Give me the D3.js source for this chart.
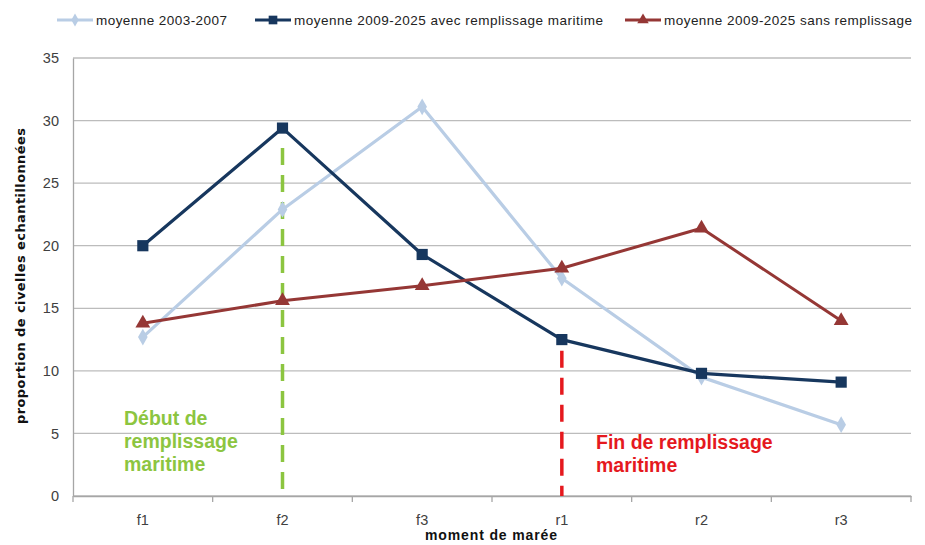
<!DOCTYPE html>
<html>
<head>
<meta charset="utf-8">
<script src="https://cdn.jsdelivr.net/npm/d3@7"></script>
<style>
  body { margin: 0; background: #fff; }
  svg { display: block; font-family: "Liberation Sans Narrow", "Liberation Sans", sans-serif; }
</style>
</head>
<body>
<svg id="chart" width="925" height="545"></svg>
<script>
// tide moments
var categories = ['f1', 'f2', 'f3', 'r1', 'r2', 'r3'];
var seriesNames = ['moyenne 2003-2007', 'moyenne 2009-2025 avec remplissage maritime', 'moyenne 2009-2025 sans remplissage'];
var avg0307 = [12.7, 22.9, 31.1, 17.4, 9.5, 5.7];
var avgAvec = [20.0, 29.4, 19.3, 12.5, 9.8, 9.1];
var avgSans = [13.8, 15.6, 16.8, 18.2, 21.4, 14.0];
var yTicks = [0, 5, 10, 15, 20, 25, 30, 35];
// dashed markers: [category, top value]
var debut = ['f2', 27.8];
var fin = ['r1', 11.6];

var margin = {left: 73, right: 14, top: 58, bottom: 49};
var W = 925, H = 545;
var svg = d3.select('#chart');

var x = d3.scaleBand().domain(categories).range([margin.left, W - margin.right]);
var y = d3.scaleLinear().domain([0, 35]).range([H - margin.bottom, margin.top]);

// gridlines
svg.append('g').selectAll('line').data(yTicks).join('line')
  .attr('x1', margin.left).attr('x2', W - margin.right)
  .attr('y1', d => y(d)).attr('y2', d => y(d))
  .attr('stroke', '#bcbcbc').attr('stroke-width', 1.3);

// y axis
var yAxis = svg.append('g').attr('transform', 'translate(' + margin.left + ',0)')
  .call(d3.axisLeft(y).tickValues(yTicks).tickSize(0).tickPadding(14));
yAxis.select('.domain').attr('stroke', '#a6a6a6').attr('stroke-width', 1.3);
yAxis.selectAll('text').attr('font-size', 14.5).attr('fill', '#404040')
  .attr('font-family', '"Liberation Sans Narrow", sans-serif');

// x axis
var xAxis = svg.append('g').attr('transform', 'translate(0,' + y(0) + ')')
  .call(d3.axisBottom(x).tickSize(0).tickPadding(19));
xAxis.select('.domain').attr('stroke', '#a6a6a6').attr('stroke-width', 1.3);
xAxis.selectAll('text').attr('font-size', 14.5).attr('fill', '#404040')
  .attr('font-family', '"Liberation Sans Narrow", sans-serif');
// band boundary tick marks
xAxis.append('g').selectAll('line').data(categories.concat(['end'])).join('line')
  .attr('x1', (d, i) => margin.left + i * x.bandwidth())
  .attr('x2', (d, i) => margin.left + i * x.bandwidth())
  .attr('y1', 0).attr('y2', 6)
  .attr('stroke', '#a6a6a6').attr('stroke-width', 1.3);

var cx = d => x(d) + x.bandwidth() / 2;

// dashed vertical lines
svg.append('line')
  .attr('x1', cx(debut[0])).attr('x2', cx(debut[0]))
  .attr('y1', y(debut[1])).attr('y2', y(0))
  .attr('stroke', '#8cc540').attr('stroke-width', 3.5).attr('stroke-dasharray', '17,10');
svg.append('line')
  .attr('x1', cx(fin[0])).attr('x2', cx(fin[0]))
  .attr('y1', y(fin[1])).attr('y2', y(0))
  .attr('stroke', '#e5191e').attr('stroke-width', 3.5).attr('stroke-dasharray', '17,10');

// series
var series = [
  {name: seriesNames[0], values: avg0307, color: '#b9cde5', width: 3.2, symbol: d3.symbolDiamond, size: 80},
  {name: seriesNames[1], values: avgAvec, color: '#17375e', width: 3.2, symbol: d3.symbolSquare, size: 125},
  {name: seriesNames[2], values: avgSans, color: '#953735', width: 3, symbol: d3.symbolTriangle, size: 95}
];

var line = d3.line().x((d, i) => cx(categories[i])).y(d => y(d));

series.forEach(function(s) {
  svg.append('path').datum(s.values)
    .attr('d', line).attr('fill', 'none')
    .attr('stroke', s.color).attr('stroke-width', s.width).attr('stroke-linejoin', 'round');
  svg.append('g').selectAll('path').data(s.values).join('path')
    .attr('transform', (d, i) => 'translate(' + cx(categories[i]) + ',' + y(d) + ')')
    .attr('d', d3.symbol().type(s.symbol).size(s.size))
    .attr('fill', s.color);
});

// legend
var legendX = [57, 255, 625];
var legendLen = [131, 309, 248];
var leg = svg.append('g');
series.forEach(function(s, i) {
  var g = leg.append('g').attr('transform', 'translate(' + legendX[i] + ',20)');
  g.append('line').attr('x1', 0).attr('x2', 36).attr('y1', 0).attr('y2', 0)
    .attr('stroke', s.color).attr('stroke-width', 3.2);
  g.append('path').attr('transform', 'translate(18,0)')
    .attr('d', d3.symbol().type(s.symbol).size(s.size * 0.6)).attr('fill', s.color);
  g.append('text').attr('x', 39).attr('y', 4.5).attr('font-size', 13.5).attr('fill', '#222')
    .attr('textLength', legendLen[i]).text(s.name);
});

// axis titles
svg.append('text').attr('x', 491).attr('y', 540)
  .attr('text-anchor', 'middle').attr('font-size', 14).attr('font-weight', 'bold')
  .attr('textLength', 132).attr('fill', '#111').text('moment de marée');
svg.append('text')
  .attr('transform', 'translate(25,276) rotate(-90)')
  .attr('text-anchor', 'middle').attr('font-size', 13).attr('font-weight', 'bold')
  .attr('font-family', '"DejaVu Sans", sans-serif').attr('textLength', 296)
  .attr('fill', '#111').text('proportion de civelles echantillonnées');

// annotations
var debutText = ['Début de', 'remplissage', 'maritime'];
var finText = ['Fin de remplissage', 'maritime'];
svg.append('text').attr('font-size', 19.5).attr('font-weight', 'bold').attr('fill', '#8cc540')
  .selectAll('tspan').data(debutText).join('tspan')
  .attr('x', 124).attr('y', (d, i) => 425 + i * 23).text(d => d);
svg.append('text').attr('font-size', 19.5).attr('font-weight', 'bold').attr('fill', '#e5191e')
  .selectAll('tspan').data(finText).join('tspan')
  .attr('x', 596).attr('y', (d, i) => 449 + i * 23).text(d => d);
</script>
</body>
</html>
